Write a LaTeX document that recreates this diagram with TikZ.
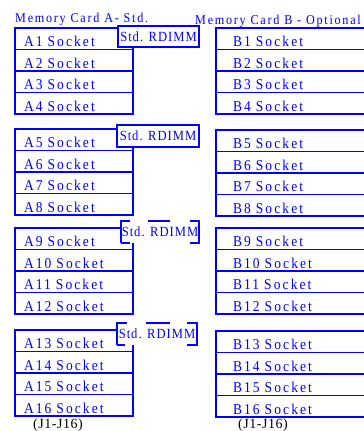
\documentclass[tikz,border=0pt]{standalone}
\usepackage{fontspec}
\setmainfont{Liberation Serif}
\newfontfamily\sockfont{Liberation Serif}[LetterSpace=14, FakeStretch=0.9]
\newfontfamily\titlefont{Liberation Serif}[LetterSpace=13, FakeStretch=0.9]
\newfontfamily\tagfont{Liberation Serif}[LetterSpace=7, FakeStretch=0.9]
\newfontfamily\jackfont{Liberation Serif}[LetterSpace=4]
\usetikzlibrary{positioning}
\definecolor{cardblue}{HTML}{0000FF}

\begin{document}
\begin{tikzpicture}[
    x=1pt, y=-1pt,
    title/.style={font=\fontsize{13.5}{15}\selectfont\titlefont, text=cardblue, inner sep=0pt, anchor=base west},
    sock/.style={draw=cardblue, line width=1.6pt, outer sep=0pt, font=\fontsize{15}{17}\selectfont\sockfont, text=cardblue, align=left, text height=16.5pt, text depth=1pt, inner ysep=2pt},
    asock/.style={sock, text width=100pt, inner xsep=9pt},
    bsock/.style={sock, text width=126pt, inner xsep=17pt},
    rdimm/.style={draw=cardblue, fill=white, line width=1.6pt, font=\fontsize{14}{16}\selectfont\tagfont, text=cardblue, inner sep=0pt, minimum height=21.5pt},
    jack/.style={font=\fontsize{14}{16}\selectfont\jackfont, inner sep=0pt, anchor=base}
]
\useasboundingbox (0,0) rectangle (364,431);

% Titles
\node[title] (titleA) at (15,23) {Memory Card A- Std.};
\node[title] (titleB) at (195,24) {Memory Card B - Optional};

% Card A, sockets A1-A4
\node[asock, anchor=north west] (a1) at (15,28) {A1 Socket};
\node[asock, below=0pt of a1] (a2) {A2 Socket};
\node[asock, below=0pt of a2] (a3) {A3 Socket};
\node[asock, below=0pt of a3] (a4) {A4 Socket};

% Card A, sockets A5-A8
\node[asock, anchor=north west] (a5) at (15,129) {A5 Socket};
\node[asock, below=0pt of a5] (a6) {A6 Socket};
\node[asock, below=0pt of a6] (a7) {A7 Socket};
\node[asock, below=0pt of a7] (a8) {A8 Socket};

% Card A, sockets A9-A12
\node[asock, anchor=north west] (a9) at (15,228) {A9 Socket};
\node[asock, below=0pt of a9] (a10) {A10 Socket};
\node[asock, below=0pt of a10] (a11) {A11 Socket};
\node[asock, below=0pt of a11] (a12) {A12 Socket};

% Card A, sockets A13-A16
\node[asock, anchor=north west] (a13) at (15,330) {A13 Socket};
\node[asock, below=0pt of a13] (a14) {A14 Socket};
\node[asock, below=0pt of a14] (a15) {A15 Socket};
\node[asock, below=0pt of a15] (a16) {A16 Socket};

% Card B, sockets B1-B4
\node[bsock, anchor=north west] (b1) at (216,28) {B1 Socket};
\node[bsock, below=0pt of b1] (b2) {B2 Socket};
\node[bsock, below=0pt of b2] (b3) {B3 Socket};
\node[bsock, below=0pt of b3] (b4) {B4 Socket};

% Card B, sockets B5-B8
\node[bsock, anchor=north west] (b5) at (216,130) {B5 Socket};
\node[bsock, below=0pt of b5] (b6) {B6 Socket};
\node[bsock, below=0pt of b6] (b7) {B7 Socket};
\node[bsock, below=0pt of b7] (b8) {B8 Socket};

% Card B, sockets B9-B12
\node[bsock, anchor=north west] (b9) at (216,228) {B9 Socket};
\node[bsock, below=0pt of b9] (b10) {B10 Socket};
\node[bsock, below=0pt of b10] (b11) {B11 Socket};
\node[bsock, below=0pt of b11] (b12) {B12 Socket};

% Card B, sockets B13-B16
\node[bsock, anchor=north west] (b13) at (216,331) {B13 Socket};
\node[bsock, below=0pt of b13] (b14) {B14 Socket};
\node[bsock, below=0pt of b14] (b15) {B15 Socket};
\node[bsock, below=0pt of b15] (b16) {B16 Socket};

% RDIMM tags (the lower two with broken borders)
\node[rdimm, minimum width=81pt] (rdimm1) at (158.5,36.5) {Std. RDIMM};
\node[rdimm, minimum width=82pt] (rdimm2) at (158,136) {Std. RDIMM};
\node[rdimm, minimum width=78pt, dash pattern=on 9pt off 60pt on 39.5pt off 20pt on 22pt off 18pt on 30.5pt] (rdimm3) at (160,232) {Std. RDIMM};
\node[rdimm, minimum width=80pt, dash pattern=on 8pt off 62pt on 41.5pt off 17pt on 24pt off 19pt on 32pt] (rdimm4) at (157,334) {Std. RDIMM};

% Connector ranges
\node[jack] (jackA) at (58,428) {(J1-J16)};
\node[jack] (jackB) at (263,428) {(J1-J16)};
\end{tikzpicture}
\end{document}
